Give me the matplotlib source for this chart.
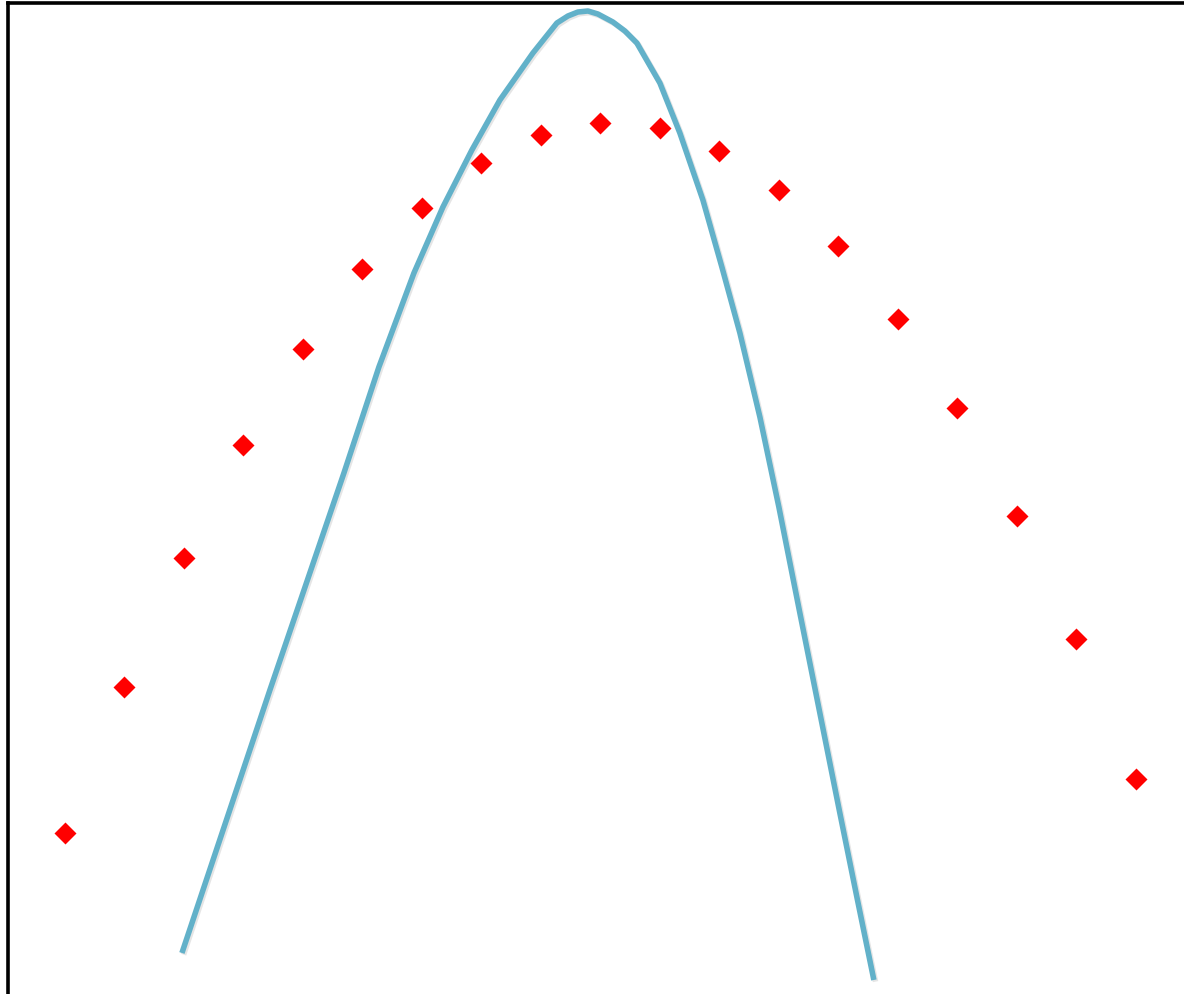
import numpy as np
import matplotlib.pyplot as plt
import matplotlib.patheffects as pe

# red diamonds: 19 evenly spaced samples
point_x = np.arange(1, 20)
point_y = [1.61, 3.07, 4.36, 5.49, 6.45, 7.25, 7.86, 8.31, 8.59, 8.71,
           8.66, 8.43, 8.04, 7.48, 6.75, 5.86, 4.78, 3.55, 2.15]

# blue curve
curve_x = [2.966, 4.445, 5.689, 6.277, 6.866, 7.353, 7.840, 8.311, 8.866,
           9.269, 9.454, 9.622, 9.790, 9.958, 10.210, 10.412, 10.613, 11.000,
           11.336, 11.723, 12.042, 12.345, 12.681, 13.000, 13.353, 13.689,
           14.025, 14.311, 14.597]
curve_y = [0.41, 3.04, 5.21, 6.27, 7.21, 7.87, 8.44, 8.94, 9.41,
           9.71, 9.78, 9.82, 9.83, 9.80, 9.72, 9.63, 9.51, 9.11,
           8.61, 7.94, 7.27, 6.61, 5.77, 4.87, 3.81, 2.81,
           1.81, 0.97, 0.14]

fig = plt.figure(figsize=(11.84, 9.94), dpi=100)
left = 7.5 / 1184
top = 991.5 / 994
ax = fig.add_axes([left, 0, 1 - left, top])

ax.plot(curve_x, curve_y, color='#62b1c9', lw=4.0, solid_capstyle='butt',
        solid_joinstyle='round',
        path_effects=[pe.SimpleLineShadow(offset=(1.2, -1.2), shadow_color='gray', alpha=0.2),
                      pe.Normal()])
ax.plot(point_x, point_y, 'D', color='#ff0000', ms=11.7, mec='none')

ax.set_xlim(0.034, 19.81)
ax.set_ylim(0, 9.915)
ax.set_xticks([])
ax.set_yticks([])
for side in ['right', 'bottom']:
    ax.spines[side].set_visible(False)
for side in ['left', 'top']:
    ax.spines[side].set_linewidth(2.6)
    ax.spines[side].set_color('black')

fig.savefig('out.png', dpi=100)
